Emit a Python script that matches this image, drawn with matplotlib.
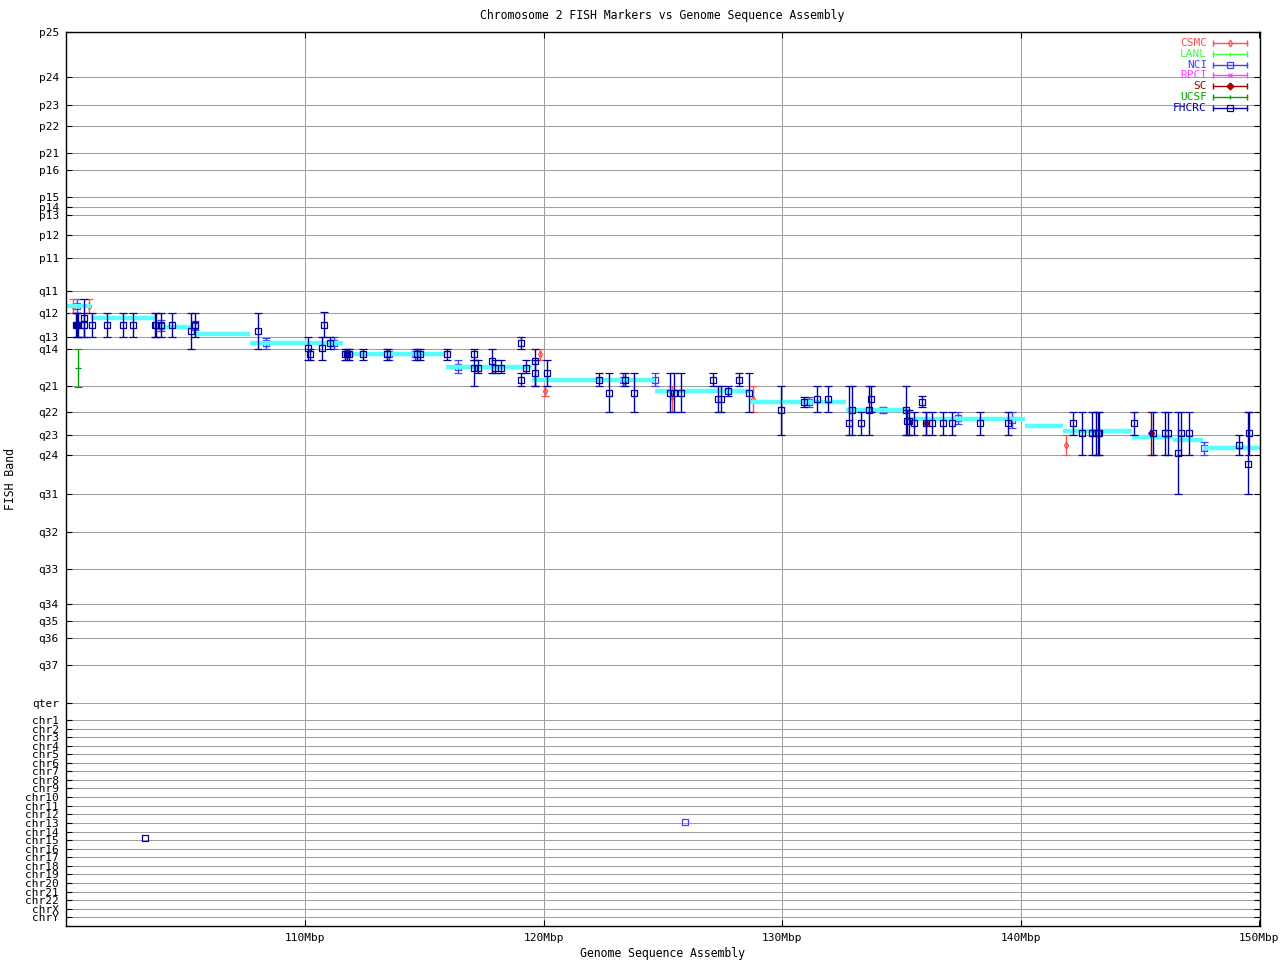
import matplotlib
matplotlib.use('Agg')
import matplotlib.pyplot as plt

# ---------------- data ----------------
band_labels = ['p25', 'p24', 'p23', 'p22', 'p21', 'p16', 'p15', 'p14', 'p13', 'p12', 'p11',
               'q11', 'q12', 'q13', 'q14', 'q21', 'q22', 'q23', 'q24', 'q31', 'q32', 'q33',
               'q34', 'q35', 'q36', 'q37', 'qter',
               'chr1', 'chr2', 'chr3', 'chr4', 'chr5', 'chr6', 'chr7', 'chr8', 'chr9', 'chr10',
               'chr11', 'chr12', 'chr13', 'chr14', 'chr15', 'chr16', 'chr17', 'chr18', 'chr19',
               'chr20', 'chr21', 'chr22', 'chrX', 'chrY']
band_pos = [32, 76.7, 105.3, 126, 153, 170.3, 197.3, 207.3, 215.3, 235.3, 258.3,
            290.7, 312.7, 337.3, 349.3, 386.3, 412.3, 435.3, 455, 494.3, 532.3, 569.3,
            604.3, 621, 638, 665.3, 702.7,
            720.3, 728.7, 737, 745.7, 754, 762.7, 771, 780, 788.3, 797.3,
            806, 814.3, 823.3, 831.7, 840.3, 849, 857.3, 866, 874.3,
            883.3, 892, 900.3, 909, 917.3]

xtick_vals = [110, 120, 130, 140, 150]
xtick_labels = ['110Mbp', '120Mbp', '130Mbp', '140Mbp', '150Mbp']

# genome sequence assembly band segments (cyan)
asm_start = [99.97, 101.01, 103.77, 105.35, 107.71, 111.61, 115.91, 119.52, 124.65,
             128.66, 132.68, 135.18, 140.17, 141.76, 144.67, 146.37, 147.63]
asm_end = [101.01, 103.77, 105.35, 107.71, 111.61, 115.91, 119.52, 124.65, 128.66,
           132.68, 135.18, 140.17, 141.76, 144.67, 146.37, 147.63, 150.04]
asm_band = [306, 318, 326.5, 333.5, 343, 354, 367, 380, 391, 402, 410, 419.3,
            425.7, 431, 437, 440, 448.3]

# CSMC
csmc_x = [100.26, 100.96, 119.87, 120.08, 125.40, 128.77, 141.88]
csmc_y = [306, 306, 354.3, 391, 397, 399, 445.3]
csmc_lo = [299.3, 299.3, 349.3, 386.3, 386.3, 386.3, 435.3]
csmc_hi = [312.7, 312.7, 360.3, 396.3, 412.3, 412.3, 455.3]

# LANL (no points visible)
lanl_x = []
lanl_y = []
lanl_lo = []
lanl_hi = []

# NCI
nci_x = [100.45, 103.95, 105.40, 108.38, 111.23, 113.51, 114.61, 116.43, 123.32, 124.67,
         131.14, 134.21, 137.39, 139.63, 147.69]
nci_y = [306, 326, 326, 343.3, 343.3, 354, 354, 367, 380.3, 380, 402, 410, 418, 420, 448]
nci_lo = [299.3, 320, 321, 337.7, 337.3, 349.3, 349.3, 360.3, 373.3, 373.3, 396.7, 407,
          412.3, 412.3, 441.7]
nci_hi = [312.7, 331, 330, 349.3, 349.3, 360.3, 360.3, 373, 386.3, 386.3, 406.7, 412.5,
          424.3, 428.3, 455]
nci_chr_x = [125.93]
nci_chr_y = [822]

# RPCI (no points visible)
rpci_x = []
rpci_y = []

# SC
sc_x = [136.01, 145.47]
sc_y = [423.3, 433.3]
sc_lo = [412.3, 412.3]
sc_hi = [435.3, 455.3]

# UCSF
ucsf_x = [100.49]
ucsf_y = [368.3]
ucsf_lo = [349.3]
ucsf_hi = [386.7]

# FHCRC
fh_x = [100.42, 100.45, 100.48, 100.75, 100.75, 101.08, 101.71, 102.38, 102.80, 103.73,
        103.77, 103.95, 104.41, 105.23, 105.40, 108.04, 110.14, 110.22, 110.73, 110.81,
        111.06, 111.69, 111.77, 111.86, 112.44, 113.43, 114.71, 114.83, 115.97, 117.10,
        117.10, 117.27, 117.85, 117.98, 118.23, 119.06, 119.06, 119.28, 119.66, 119.66,
        120.16, 122.34, 122.76, 123.42, 123.77, 125.30, 125.47, 125.74, 127.12, 127.30,
        127.43, 127.71, 128.17, 128.63, 129.93, 130.92, 131.48, 131.90, 132.82, 132.91,
        133.32, 133.66, 133.74, 135.21, 135.25, 135.30, 135.51, 135.84, 136.01, 136.26,
        136.76, 137.10, 138.31, 139.45, 142.17, 142.55, 142.97, 143.17, 143.23, 143.29,
        144.73, 145.53, 146.06, 146.16, 146.60, 146.70, 147.04, 149.13, 149.51, 149.55]
fh_y = [325.3, 325.3, 325.3, 318.3, 325.3, 325.3, 325.3, 325.3, 325.3, 325.3,
        325.3, 325.3, 325.3, 331.3, 325.3, 331.3, 348.3, 354, 348.3, 325.3,
        343.3, 354, 354, 354, 354, 354, 354, 354, 354, 354,
        368.3, 368.3, 361.3, 368.3, 368.3, 343.3, 380.3, 368.3, 361.3, 373.3,
        373.3, 380.3, 393.3, 380.3, 393.3, 393.3, 393.3, 393.3, 380.3, 399.3,
        399.3, 391.3, 380.3, 393.3, 410.3, 402.3, 399.3, 399.3, 423.3, 410.3,
        423.3, 410.3, 399.3, 410.3, 421.3, 421.3, 423.3, 402.3, 423.3, 423.3,
        423.3, 423.3, 423.3, 423.3, 423.3, 433.3, 433.3, 433.3, 433.3, 433.3,
        423.3, 433.3, 433.3, 433.3, 453.3, 433.3, 433.3, 445.3, 464.3, 433.3]
fh_lo = [312.7, 312.7, 312.7, 299.3, 312.7, 312.7, 312.7, 312.7, 312.7, 312.7,
         312.7, 312.7, 312.7, 312.7, 312.7, 312.7, 337.3, 349.3, 337.3, 312.3,
         337.3, 349.3, 349.3, 349.3, 349.3, 349.3, 349.3, 349.3, 349.3, 349.3,
         360.3, 360.3, 349.3, 360.3, 360.3, 337.3, 373.3, 360.3, 349.3, 360.3,
         360.3, 373.3, 373.3, 373.3, 373.3, 373.3, 373.3, 373.3, 373.3, 386.3,
         386.3, 386.3, 373.3, 373.3, 386.3, 396.7, 386.3, 386.3, 386.3, 386.3,
         412.3, 386.3, 386.3, 386.3, 410, 410, 412.3, 396.3, 412.3, 412.3,
         412.3, 412.3, 412.3, 412.3, 412.3, 412.3, 412.3, 412.3, 412.3, 412.3,
         412.3, 412.3, 412.3, 412.3, 412.3, 412.3, 412.3, 435.3, 412.3, 412.3]
fh_hi = [337.3, 337.3, 337.3, 337.3, 337.3, 337.3, 337.3, 337.3, 337.3, 337.3,
         337.3, 337.3, 337.3, 349.3, 337.3, 349.3, 360.3, 360.3, 360.3, 337.3,
         349.3, 360.3, 360.3, 360.3, 360.3, 360.3, 360.3, 360.3, 360.3, 360.3,
         386.3, 373.3, 373.3, 373.3, 373.3, 349.3, 386.3, 373.3, 386.3, 386.3,
         386.3, 386.3, 412.3, 386.3, 412.3, 412.3, 412.3, 412.3, 386.3, 412.3,
         412.3, 396.3, 386.3, 412.3, 435.3, 406.7, 412.3, 412.3, 435.3, 435.3,
         435.3, 435.3, 412.3, 435.3, 435.3, 435.3, 435.3, 407.3, 435.3, 435.3,
         435.3, 435.3, 435.3, 435.3, 435.3, 455.3, 455.3, 455.3, 455.3, 455.3,
         435.3, 455.3, 455.3, 455.3, 494.3, 455.3, 455.3, 455.3, 494.3, 455.3]
fh_chr_x = [103.30]
fh_chr_y = [838.3]

# legend
legend_names = ['CSMC', 'LANL', 'NCI', 'RPCI', 'SC', 'UCSF', 'FHCRC']
legend_colors = ['#ff5050', '#40ff40', '#4040ff', '#ff40ff', '#a00000', '#00a000', '#0000a0']
legend_markers = ['d', '|', 's', 'x', 'D', '|', 's']

# ---------------- drawing ----------------
FONT = 'DejaVu Sans Mono'
plt.rcParams['font.family'] = FONT
plt.rcParams['font.size'] = 8

W, H = 1280, 960
fig = plt.figure(figsize=(12.8, 9.6), dpi=100)
ax_l, ax_r, ax_t, ax_b = 65.7, 1260.3, 32, 926
ax = fig.add_axes([ax_l / W, (H - ax_b) / H, (ax_r - ax_l) / W, (ax_b - ax_t) / H])

ax.set_xlim(99.97, 150.04)
ax.set_ylim(926, 32)

ax.set_yticks(band_pos)
ax.set_yticklabels(band_labels)
ax.set_xticks(xtick_vals)
ax.set_xticklabels(xtick_labels)
ax.tick_params(axis='both', direction='in', length=4, width=0.8, labelsize=8,
               top=True, right=True, pad=5, colors='black')

grid_c = '#a0a0a0'
for yv in band_pos[1:]:
    ax.axhline(yv, color=grid_c, lw=0.75, zorder=1)
for xv in xtick_vals[:-1]:
    ax.axvline(xv, color=grid_c, lw=0.75, zorder=1)

for s in ax.spines.values():
    s.set_linewidth(1.0)
    s.set_zorder(10)

eb_kw = dict(linestyle='none', capsize=2.6, elinewidth=1.0, capthick=1.0,
             markersize=4.5, markeredgewidth=0.9)

def yerr(y, lo, hi):
    return [[a - b for a, b in zip(y, lo)], [b - a for a, b in zip(y, hi)]]

# NCI
ax.errorbar(nci_x, nci_y, yerr=yerr(nci_y, nci_lo, nci_hi), color='#4040ff', marker='s',
            mfc='none', zorder=2, **eb_kw)
ax.plot(nci_chr_x, nci_chr_y, linestyle='none', marker='s', mfc='none', mec='#4040ff',
        markersize=4.5, markeredgewidth=0.9, zorder=2)
# CSMC
ax.errorbar(csmc_x, csmc_y, yerr=yerr(csmc_y, csmc_lo, csmc_hi), color='#ff5050',
            marker='d', mfc='none', zorder=2,
            **{**eb_kw, 'markersize': 3.5})
# UCSF
ax.errorbar(ucsf_x, ucsf_y, yerr=yerr(ucsf_y, ucsf_lo, ucsf_hi), color='#00a000',
            marker='_', zorder=2, **{**eb_kw, 'markersize': 5})

# assembly bands
ax.hlines(asm_band, asm_start, asm_end, colors='#55ffff', linewidth=3.2, zorder=3)

# SC
ax.errorbar(sc_x, sc_y, yerr=yerr(sc_y, sc_lo, sc_hi), color='#a00000', marker='D',
            zorder=4, **{**eb_kw, 'markersize': 3})
# FHCRC
ax.errorbar(fh_x, fh_y, yerr=yerr(fh_y, fh_lo, fh_hi), color='#0000a0', marker='s',
            mfc='none', zorder=5, **eb_kw)
ax.plot(fh_chr_x, fh_chr_y, linestyle='none', marker='s', mfc='none', mec='#0000a0',
        markersize=4.5, markeredgewidth=0.9, zorder=5)

# legend (drawn in figure pixel coordinates)
def fx(px):
    return px / W
def fy(py):
    return (H - py) / H

row0, drow = 43, 10.8
for i, (name, col, mk) in enumerate(zip(legend_names, legend_colors, legend_markers)):
    py = row0 + i * drow
    fig.text(fx(1207), fy(py), name, color=col, ha='right', va='center',
             fontsize=8, family=FONT)
    fig.add_artist(plt.Line2D([fx(1213), fx(1247)], [fy(py), fy(py)], color=col, lw=1.0,
                              transform=fig.transFigure))
    fig.add_artist(plt.Line2D([fx(1213), fx(1247)], [fy(py), fy(py)], color=col,
                              linestyle='none', marker='|', markersize=5,
                              markeredgewidth=1.0, transform=fig.transFigure))
    ms = 4 if mk == 's' else 3.5
    fig.add_artist(plt.Line2D([fx(1230)], [fy(py)], color=col, linestyle='none',
                              marker=mk, markersize=ms, mfc='none' if mk in ('s', 'd') else col,
                              markeredgewidth=0.9, transform=fig.transFigure))

fig.text(fx(662), fy(15), 'Chromosome 2 FISH Markers vs Genome Sequence Assembly',
         ha='center', va='center', fontsize=8.3, family=FONT)
fig.text(fx(662), fy(953), 'Genome Sequence Assembly', ha='center', va='center',
         fontsize=8.3, family=FONT)
fig.text(fx(11), fy(479), 'FISH Band', ha='center', va='center', rotation=90,
         fontsize=8.3, family=FONT)

fig.savefig('out.png', dpi=100)
